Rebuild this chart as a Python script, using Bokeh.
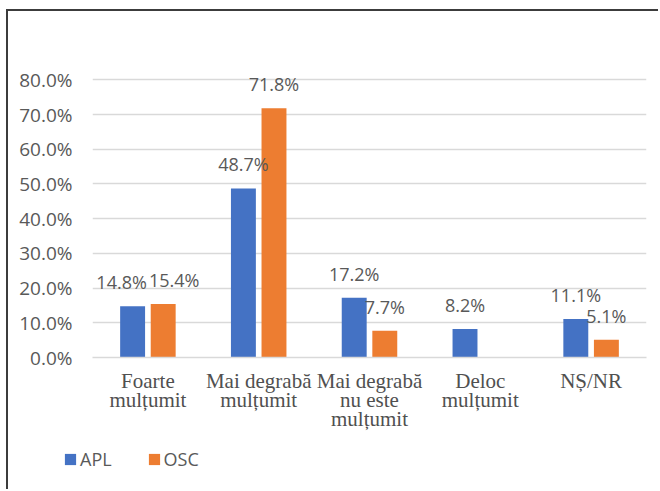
from bokeh.plotting import figure
from bokeh.layouts import column
from bokeh.models import (ColumnDataSource, FactorRange, Range1d, FixedTicker,
                          PrintfTickFormatter, Legend, LegendItem)
from bokeh.transform import dodge
from bokeh.core.properties import value
from bokeh.embed import file_html
from bokeh.resources import INLINE

categories = ["Foarte\nmulțumit", "Mai degrabă\nmulțumit", "Mai degrabă\nnu este\nmulțumit",
              "Deloc\nmulțumit", "NȘ/NR"]
series = ["APL", "OSC"]
apl = [14.8, 48.7, 17.2, 8.2, 11.1]
osc = [15.4, 71.8, 7.7, 0.0, 5.1]
y_ticks = [0, 10, 20, 30, 40, 50, 60, 70, 80]

# label nudges (px) where Excel moved labels apart to avoid overlap
apl_dx = [-11, 0, 0, 0, 0]
osc_dx = [11, 0, 0, 0, 0]

BLUE = "#4472C4"
ORANGE = "#ED7D31"
GRAY = "#595959"

def lab(vals):
    return [("%.1f%%" % v) if v > 0 else "" for v in vals]

src_apl = ColumnDataSource(dict(cat=categories, val=apl, label=lab(apl), dx=apl_dx))
src_osc = ColumnDataSource(dict(cat=categories, val=osc, label=lab(osc), dx=osc_dx))

p = figure(width=650, height=437, x_range=FactorRange(factors=categories),
           y_range=Range1d(0, 85), output_backend="svg", toolbar_location=None,
           min_border_left=84, min_border_right=12, min_border_top=51, min_border_bottom=91,
           frame_align=False)
p.outline_line_color = None
p.background_fill_color = "white"
p.border_fill_color = "white"

off = 0.138
bw = 0.225
p.vbar(x=dodge("cat", -off, range=p.x_range), top="val", width=bw, source=src_apl,
       fill_color=BLUE, line_color=None)
p.vbar(x=dodge("cat", off, range=p.x_range), top="val", width=bw, source=src_osc,
       fill_color=ORANGE, line_color=None)

for src, o in ((src_apl, -off), (src_osc, off)):
    p.text(x=dodge("cat", o, range=p.x_range), y="val", text="label", source=src,
           x_offset="dx", y_offset=-24, text_align="center", text_baseline="alphabetic",
           text_font=value("Open Sans"), text_font_size="18px", text_color=GRAY)

p.yaxis.ticker = FixedTicker(ticks=y_ticks)
p.yaxis.formatter = PrintfTickFormatter(format="%.1f%%")
p.yaxis.axis_line_color = None
p.yaxis.major_tick_line_color = None
p.yaxis.minor_tick_line_color = None
p.yaxis.major_label_standoff = 14
p.yaxis.major_label_text_font = "Open Sans"
p.yaxis.major_label_text_font_size = "19px"
p.yaxis.major_label_text_color = GRAY

p.xaxis.axis_line_color = "#d9d9d9"
p.xaxis.axis_line_width = 1.5
p.xaxis.major_tick_line_color = None
p.xaxis.major_label_standoff = 5
p.xaxis.major_label_text_font = "Liberation Serif"
p.xaxis.major_label_text_font_size = "21px"
p.xaxis.major_label_text_color = "#505050"
p.xaxis.major_label_text_line_height = 0.8

p.xgrid.grid_line_color = None
p.ygrid.grid_line_color = "#d9d9d9"
p.ygrid.grid_line_width = 1.5

# legend strip below the chart (proxy bars lie outside its visible y range)
lg = figure(width=650, height=41, x_range=FactorRange(factors=categories),
            y_range=Range1d(1000, 1001), output_backend="svg", toolbar_location=None,
            min_border_left=0, min_border_right=0, min_border_top=0, min_border_bottom=0,
            frame_align=False)
lg.axis.visible = False
lg.grid.grid_line_color = None
lg.outline_line_color = None
lg.border_fill_color = "white"
k1 = lg.vbar(x="cat", top="val", width=bw, source=src_apl, fill_color=BLUE, line_color=None)
k2 = lg.vbar(x="cat", top="val", width=bw, source=src_osc, fill_color=ORANGE, line_color=None)
legend = Legend(items=[LegendItem(label=series[0], renderers=[k1]),
                       LegendItem(label=series[1], renderers=[k2])],
                orientation="horizontal", location=(55, 18),
                glyph_width=14, glyph_height=14, label_standoff=3, spacing=35,
                label_text_font="Open Sans", label_text_font_size="18px",
                label_text_color=GRAY, border_line_color=None,
                background_fill_alpha=0, padding=0, margin=0)
lg.add_layout(legend)

layout = column(p, lg, spacing=0)
layout.styles = {"border-top": "2px solid #3c3c3c", "border-left": "2px solid #3c3c3c",
                 "margin-left": "6px", "margin-top": "9px"}

open("out.html", "w").write(file_html(layout, INLINE))
